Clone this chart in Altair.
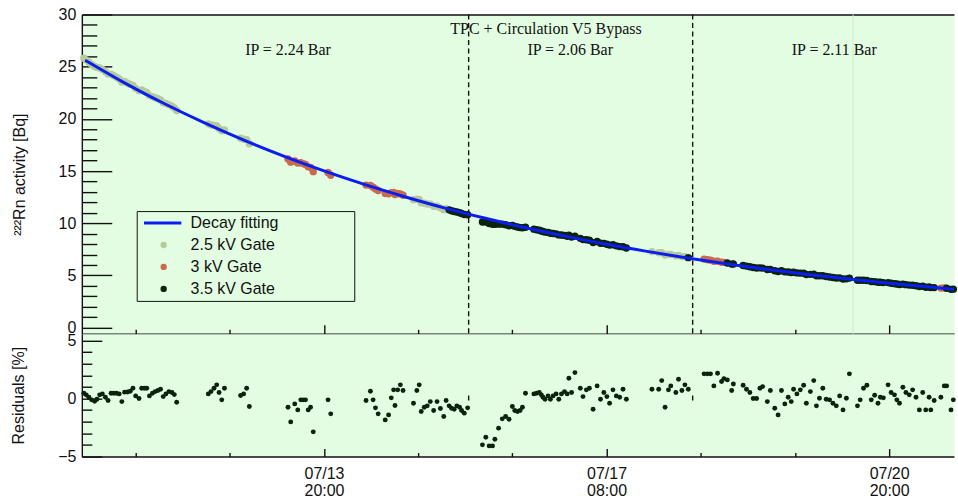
import altair as alt
import pandas as pd

# ---------------- data (time = hours after 07/10 20:00) ----------------
fit_hours = [1, 12, 24, 36, 48, 60, 72, 84, 96, 108, 120, 132, 144, 156, 168, 180,
             192, 204, 216, 228, 240, 252, 259.3]
fit_activity = [25.61, 23.57, 21.54, 19.68, 17.98, 16.43, 15.01, 13.72, 12.54, 11.45, 10.47,
                9.56, 8.74, 7.98, 7.30, 6.67, 6.09, 5.57, 5.09, 4.65, 4.25, 3.88, 3.67]

g25_hours = [0.6, 1.3, 2.1, 2.9, 3.8, 4.5, 5.3, 6.1, 7.0, 7.8, 8.7, 9.5, 10.3, 11.1, 11.9,
             12.7, 13.6, 14.4, 15.2, 16.0, 17.0, 17.8, 18.6, 19.3, 20.1, 21.0, 21.8, 22.6, 23.4,
             24.2, 25.0, 25.9, 26.8, 27.5, 28.2,
             37.6, 38.4, 39.3, 40.1, 40.8, 41.6, 42.4,
             47.2, 48.1, 49.0, 49.8,
             98.6, 99.6, 100.3, 100.9, 101.8, 102.7, 103.6, 104.6, 105.6, 106.6, 107.6, 108.3,
             169.5, 171.5, 172.4, 173.4, 174.4, 175.1, 176.6, 177.4, 178.4, 179.3]
g25_activity = [25.80, 25.63, 25.43, 25.21, 25.01, 24.93, 24.87, 24.74, 24.51, 24.29, 24.28,
                24.13, 23.99, 23.83, 23.53, 23.58, 23.42, 23.30, 23.21, 22.92, 22.70, 22.76,
                22.63, 22.51, 22.23, 22.13, 22.03, 21.92, 21.81, 21.55, 21.47, 21.36, 21.20,
                21.05, 20.80,
                19.52, 19.44, 19.37, 19.31, 19.08, 18.85, 18.93,
                18.14, 18.04, 18.01, 17.62,
                12.25, 12.29, 12.28, 11.95, 11.91, 11.84, 11.81, 11.63, 11.63, 11.47, 11.30, 11.40,
                7.28, 7.17, 7.17, 6.96, 7.01, 7.00, 6.88, 6.91, 6.80, 6.79]
g25_residual = [0.46, 0.32, 0.11, -0.11, -0.23, -0.06, 0.32, 0.40, 0.11, -0.17, 0.46, 0.46,
                0.46, 0.40, -0.26, 0.55, 0.57, 0.63, 0.89, 0.23, 0.0, 0.89, 0.89, 0.89, 0.23,
                0.46, 0.60, 0.69, 0.80, 0.17, 0.40, 0.60, 0.52, 0.34, -0.32,
                0.40, 0.60, 0.89, 1.18, 0.52, -0.11, 0.89,
                0.26, 0.40, 0.89, -0.69,
                -0.40, 0.69, 1.18, -1.12, -0.75, -0.63, -0.26, -1.03, -0.26, -0.86, -1.55, -0.17,
                0.80, 0.80, 1.55, -0.75, 0.75, 1.09, 0.52, 1.67, 0.69, 1.18]

g3_hours = [61.3, 62.1, 63.3, 64.2, 65.1, 65.8, 66.5, 67.3, 68.0, 68.8, 73.2, 74.0,
            84.5, 85.8, 86.6, 87.3, 88.1, 90.2, 91.2, 92.0, 92.7, 93.1, 93.9, 94.7, 95.5,
            185.0, 186.0, 186.9, 187.9, 189.0, 190.2, 190.9,
            255.4, 256.4]
g3_activity = [16.15, 15.85, 15.96, 15.76, 15.79, 15.71, 15.63, 15.40, 15.35, 14.94, 14.86, 14.59,
               13.65, 13.62, 13.44, 13.28, 13.13, 12.85, 12.82, 12.93, 12.95, 12.74, 12.84, 12.81, 12.68,
               6.56, 6.51, 6.46, 6.35, 6.36, 6.26, 6.25,
               3.78, 3.79]
g3_residual = [-0.75, -2.01, -0.46, -0.98, -0.11, -0.11, -0.11, -0.98, -0.75, -2.87, -0.11, -1.32,
               -0.17, 0.63, -0.11, -0.80, -1.32, -1.84, -1.41, 0.06, 0.75, -0.60, 0.75, 1.18, 0.69,
               2.13, 2.13, 2.13, 1.09, 2.18, 1.47, 1.72,
               0.11, 1.09]

g35_hours = [109.2, 109.9, 110.7, 111.5, 112.3, 112.9, 113.7, 114.7,
             119.1, 120.1, 121.1, 122.1, 122.8, 123.9, 125.0, 126.0, 127.0, 128.0, 128.7, 129.5,
             130.3, 131.0, 131.9, 134.4, 135.2, 136.0, 136.6, 137.1, 137.7, 138.6, 139.3, 140.1,
             141.0, 141.8, 142.6, 143.5, 144.3, 144.8, 145.6, 146.6, 148.2, 149.0, 150.0, 150.9,
             152.0, 153.2, 154.2, 155.2, 156.1, 156.9, 157.9, 158.9, 159.9, 160.9, 161.9,
             180.3,
             191.9, 193.2, 193.7, 196.6, 197.6, 198.6, 199.6, 200.6, 201.6, 202.4, 203.8, 204.7,
             206.0, 207.0, 208.0, 209.0, 210.0, 210.9, 211.6, 212.6, 213.6, 214.6, 215.4, 216.6,
             217.6, 218.4, 219.3, 220.3, 221.3, 222.3, 223.3, 224.3, 225.3, 226.3, 227.3, 228.2,
             230.6, 231.4, 232.4, 233.4, 234.7, 235.7, 236.7, 237.4, 238.3, 239.7, 240.6, 241.6,
             242.3, 243.1, 244.1, 245.0, 246.0, 247.0, 248.0, 249.0, 250.0, 250.9, 251.9, 252.4,
             253.4, 257.1, 258.4, 259.1]
g35_activity = [11.28, 11.19, 11.12, 11.08, 11.01, 10.93, 10.83, 10.81,
                10.12, 10.11, 9.96, 9.89, 9.89, 9.91, 9.91, 9.85, 9.75, 9.78, 9.70, 9.63,
                9.58, 9.56, 9.61, 9.43, 9.37, 9.33, 9.26, 9.21, 9.15, 9.12, 9.04, 9.02,
                8.98, 8.88, 8.87, 8.83, 8.75, 8.84, 8.68, 8.76, 8.55, 8.43, 8.41, 8.36,
                8.14, 8.24, 8.08, 8.07, 7.98, 7.90, 7.93, 7.83, 7.76, 7.75, 7.63,
                6.70,
                6.19, 6.08, 6.09, 5.95, 5.89, 5.83, 5.76, 5.71, 5.72, 5.70, 5.57, 5.58,
                5.44, 5.37, 5.44, 5.34, 5.33, 5.28, 5.30, 5.24, 5.22, 5.20, 5.09, 5.10,
                5.11, 4.97, 4.97, 4.97, 4.89, 4.85, 4.80, 4.75, 4.76, 4.66, 4.67, 4.74,
                4.53, 4.53, 4.54, 4.51, 4.42, 4.40, 4.34, 4.34, 4.31, 4.31, 4.25, 4.21,
                4.17, 4.13, 4.16, 4.11, 4.07, 4.06, 4.00, 3.93, 3.96, 3.87, 3.88, 3.83,
                3.83, 3.77, 3.66, 3.68]
g35_residual = [-0.63, -0.83, -0.92, -0.63, -0.75, -1.03, -1.26, -0.80,
                -3.99, -3.33, -4.08, -4.08, -3.51, -2.55, -1.75, -1.55, -1.78, -0.69, -1.03, -1.12,
                -1.03, -0.75, 0.46, 0.40, 0.46, 0.52, 0.32, 0.11, -0.06, 0.23, -0.06, 0.23,
                0.40, -0.06, 0.40, 0.60, 0.40, 1.75, 0.52, 2.24, 0.89, 0.17, 0.75, 0.89,
                -0.92, 1.09, -0.06, 0.52, 0.17, -0.40, 0.75, 0.23, 0.11, 0.80, -0.06,
                0.80,
                1.61, 0.69, 1.26, 1.15, 0.80, 0.52, 0.0, 0.0, 0.89, 1.03, -0.26, 0.69,
                -0.83, -1.41, 0.69, -0.46, 0.11, -0.26, 0.80, 0.40, 0.75, 1.15, -0.40, 0.60,
                1.55, -0.63, 0.03, 0.89, -0.06, -0.11, -0.40, -0.63, 0.23, -0.98, 0.03, 2.13,
                -0.63, -0.11, 0.89, 1.15, -0.11, 0.29, -0.40, 0.11, 0.06, 1.18, 0.52, 0.32,
                -0.11, -0.40, 0.98, 0.52, 0.32, 0.75, 0.11, -0.98, 0.52, -0.98, 0.11, -0.98,
                -0.17, 1.09, -0.98, -0.11]

boundary_hours = [115.0, 181.6]
boundary_resid_lo = [-0.17, -0.17]
boundary_resid_hi = [0.26, 0.26]
marker_hours = [229.3]

ann_text = ["TPC + Circulation V5 Bypass", "IP = 2.24 Bar", "IP = 2.06 Bar", "IP = 2.11 Bar"]
ann_hours = [138.0, 61.3, 145.2, 223.7]
ann_level = [28.09, 26.08, 26.08, 26.08]

x_major = [72, 156, 240]
x_major_date = ["07/13", "07/17", "07/20"]
x_major_time = ["20:00", "08:00", "20:00"]
x_minor = [16, 44, 100, 128, 184, 212]
y_top_major = [0, 5, 10, 15, 20, 25, 30]
y_top_minor = [v for v in range(1, 30) if v % 5]
y_bot_major = [-5, 0, 5]
y_bot_minor = [-4, -3, -2, -1, 1, 2, 3, 4]

gate_names = ["2.5 kV Gate", "3 kV Gate", "3.5 kV Gate"]
legend_items = ["Decay fitting"] + gate_names

# ---------------- style ----------------
W = 874
H_TOP = 320
H_BOT = 123
X_DOMAIN = [0, 259.3]
Y_TOP_DOMAIN = [-0.6, 30]
Y_BOT_DOMAIN = [-5, 5.58]
BG = "#e3fde3"
INK = "#111111"
FIT_COLOR = "#0a1ef0"
GATE_COLORS = ["#b7ca9b", "#c76a4e", "#0b220d"]
DOT = "#0b220d"
FONT = "Liberation Sans"
SERIF = "Liberation Serif"

df25 = pd.DataFrame({"t": g25_hours, "activity": g25_activity, "residual": g25_residual})
df25["gate"] = gate_names[0]
df3 = pd.DataFrame({"t": g3_hours, "activity": g3_activity, "residual": g3_residual})
df3["gate"] = gate_names[1]
df35 = pd.DataFrame({"t": g35_hours, "activity": g35_activity, "residual": g35_residual})
df35["gate"] = gate_names[2]
gates = pd.concat([df25, df3, df35], ignore_index=True)
fit = pd.DataFrame({"t": fit_hours, "activity": fit_activity})
fit["series"] = "Decay fitting"
bounds_df = pd.DataFrame({"t": boundary_hours, "lo": boundary_resid_lo, "hi": boundary_resid_hi})
marker_df = pd.DataFrame({"t": marker_hours})
ann_df = pd.DataFrame({"label": ann_text, "t": ann_hours, "y": ann_level})

xs = alt.Scale(domain=X_DOMAIN, nice=False, zero=False)
yts = alt.Scale(domain=Y_TOP_DOMAIN, nice=False, zero=False)
ybs = alt.Scale(domain=Y_BOT_DOMAIN, nice=False, zero=False)


def tick_axis(orient, values, size):
    return alt.Axis(orient=orient, values=values, ticks=True, tickSize=size, tickWidth=1.4,
                    tickColor=INK, offset=-size, labels=False, domain=False, grid=False,
                    title=None)


def frame_axis(orient):
    return alt.Axis(orient=orient, ticks=False, labels=False, domain=True, domainColor=INK,
                    domainWidth=1.4, grid=False, title=None)


def main_y_axis(values, title):
    return alt.Axis(orient="left", values=values, ticks=False, domain=True, domainColor=INK,
                    domainWidth=1.4, grid=False, labelFont=FONT, labelFontSize=16,
                    labelColor=INK, labelPadding=6, title=title, titleFont=FONT,
                    titleFontSize=16, titleFontWeight="normal", titleColor=INK,
                    titlePadding=31)


label_expr = "".join(
    f"datum.value == {h} ? ['{d}', '{t}'] : " for h, d, t in zip(x_major, x_major_date, x_major_time)
) + "''"

main_x_axis = alt.Axis(orient="bottom", values=x_major, ticks=False, domain=True,
                       domainColor=INK, domainWidth=1.4, grid=False, labelExpr=label_expr,
                       labelFont=FONT, labelFontSize=16, labelLineHeight=17, labelColor=INK,
                       labelPadding=9, labelFlush=False, labelOverlap=False, title=None)

# widen the legend frame: non-breaking spaces kept by a trailing zero-width space
pad = "\u00a0" * 16 + "\u200b"

# ---------------- top panel ----------------
marker = alt.Chart(marker_df).mark_rule(color="#c4f2c4", strokeWidth=1).encode(
    x=alt.X("t:Q", scale=xs, axis=None), y=alt.value(0), y2=alt.value(H_TOP))

dash = alt.Chart(bounds_df).mark_rule(color=INK, strokeWidth=1.4, strokeDash=[5, 3.5]).encode(
    x=alt.X("t:Q", scale=xs, axis=frame_axis("top")), y=alt.value(0), y2=alt.value(H_TOP))

pts = alt.Chart(gates).mark_circle(size=55, opacity=1).encode(
    x=alt.X("t:Q", scale=xs, axis=frame_axis("bottom")),
    y=alt.Y("activity:Q", scale=yts, axis=main_y_axis(y_top_major, "²²²Rn activity [Bq]")),
    color=alt.Color("gate:N",
                    scale=alt.Scale(domain=legend_items, range=["rgba(0,0,0,0)"] + GATE_COLORS),
                    legend=alt.Legend(orient="none", legendX=55, legendY=197, title=None,
                                      direction="vertical", strokeColor=INK, padding=4,
                                      rowPadding=6, symbolType="circle", symbolSize=40,
                                      symbolStrokeWidth=0, symbolOffset=15, labelOffset=19,
                                      labelFont=FONT, labelFontSize=16, labelColor=INK,
                                      labelLimit=400,
                                      labelExpr="datum.label + '" + pad + "'")),
)

line = alt.Chart(fit).mark_line(strokeWidth=3, interpolate="monotone", clip=True).encode(
    x=alt.X("t:Q", scale=xs, axis=tick_axis("bottom", x_major, 9)),
    y=alt.Y("activity:Q", scale=yts, axis=tick_axis("left", y_top_major, 30)),
    stroke=alt.Stroke("series:N", scale=alt.Scale(domain=["Decay fitting"], range=[FIT_COLOR]),
                      legend=alt.Legend(orient="none", legendX=60.5, legendY=188.5, title=None,
                                        padding=0, symbolType="stroke", symbolSize=1400,
                                        symbolStrokeWidth=3, labelExpr="''",
                                        labelFontSize=16)),
)

ann = alt.Chart(ann_df).mark_text(font=SERIF, fontSize=16, color=INK, align="center",
                                  baseline="alphabetic").encode(
    x=alt.X("t:Q", scale=xs, axis=tick_axis("bottom", x_minor, 4.5)),
    y=alt.Y("y:Q", scale=yts, axis=tick_axis("left", y_top_minor, 15)),
    text="label:N",
)

top = alt.layer(marker, dash, pts, line, ann).resolve_axis(
    x="independent", y="independent").properties(width=W, height=H_TOP)

# ---------------- residual panel ----------------
r1 = alt.Chart(df25).mark_circle(size=24, opacity=1, color=DOT).encode(
    x=alt.X("t:Q", scale=xs, axis=main_x_axis),
    y=alt.Y("residual:Q", scale=ybs, axis=main_y_axis(y_bot_major, "Residuals [%]")))
r2 = alt.Chart(df3).mark_circle(size=24, opacity=1, color=DOT).encode(
    x=alt.X("t:Q", scale=xs, axis=tick_axis("bottom", x_major, 8)),
    y=alt.Y("residual:Q", scale=ybs, axis=tick_axis("left", y_bot_major, 20)))
r3 = alt.Chart(df35).mark_circle(size=24, opacity=1, color=DOT).encode(
    x=alt.X("t:Q", scale=xs, axis=tick_axis("bottom", x_minor, 4)),
    y=alt.Y("residual:Q", scale=ybs, axis=tick_axis("left", y_bot_minor, 10)))
seg = alt.Chart(bounds_df).mark_rule(color=INK, strokeWidth=1.4).encode(
    x=alt.X("t:Q", scale=xs, axis=None),
    y=alt.Y("lo:Q", scale=ybs, axis=None), y2="hi:Q")

bottom = alt.layer(seg, r1, r2, r3).resolve_axis(
    x="independent", y="independent").properties(width=W, height=H_BOT)

chart = alt.vconcat(top, bottom, spacing=0, bounds="flush").properties(
    padding={"left": 10, "top": 6, "right": 0, "bottom": 0}
).configure_view(fill=BG, strokeOpacity=0)

chart.save("out.html", embed_options={"renderer": "svg", "actions": False})
